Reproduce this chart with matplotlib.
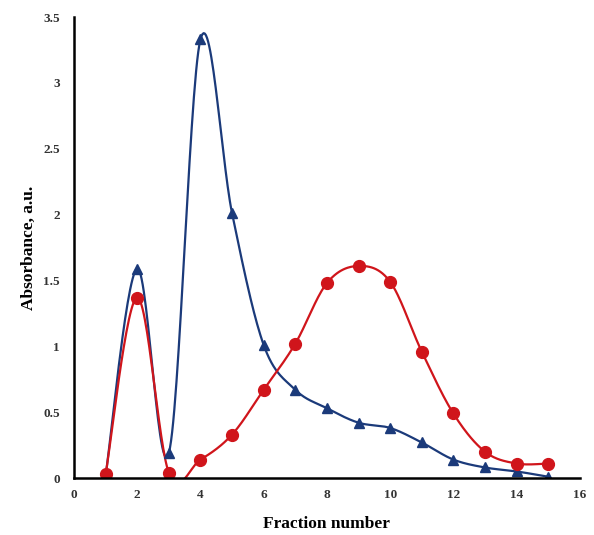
"""Absorbance profile of the collected fractions.

Two elution series are drawn as smoothed lines with markers,
in the style of a spreadsheet "smoothed line" chart.

Output:

    out.png
"""

from __future__ import annotations

import matplotlib

matplotlib.use("Agg")

import matplotlib.pyplot as plt
import numpy as np


FRACTIONS = [1, 2, 3, 4, 5, 6, 7, 8, 9, 10, 11, 12, 13, 14, 15]

SERIES_BLUE = [0.02, 1.59, 0.19, 3.33, 2.01, 1.01, 0.67, 0.53, 0.42, 0.38, 0.27, 0.14, 0.08, 0.05, 0.01]
SERIES_RED = [0.03, 1.37, 0.04, 0.14, 0.33, 0.67, 1.02, 1.48, 1.61, 1.49, 0.96, 0.49, 0.20, 0.11, 0.11]

X_TICKS = [0, 2, 4, 6, 8, 10, 12, 14, 16]
Y_TICKS = [0, 0.5, 1, 1.5, 2, 2.5, 3, 3.5]
Y_TICK_LABELS = ["0", "0.5", "1", "1.5", "2", "2.5", "3", "3.5"]

BLUE_COLOR = "#1B3A7A"
RED_COLOR = "#D0151B"
FONT_FAMILY = ["Liberation Serif", "DejaVu Serif"]


def smooth_curve(x_values: list[float], y_values: list[float], steps: int = 30) -> tuple[np.ndarray, np.ndarray]:
    """Сгладить ломаную кубическими Безье (как сглаженная линия в Excel)."""
    x = np.asarray(x_values, dtype=float)
    y = np.asarray(y_values, dtype=float)
    points = np.column_stack([x, y])
    padded = np.vstack([points[0], points, points[-1]])

    t = np.linspace(0.0, 1.0, steps)[:, None]
    segments = []
    for index in range(len(points) - 1):
        p0 = padded[index + 1]
        p3 = padded[index + 2]
        c1 = p0 + (padded[index + 2] - padded[index]) / 6.0
        c2 = p3 - (padded[index + 3] - padded[index + 1]) / 6.0
        curve = (
            (1 - t) ** 3 * p0
            + 3 * (1 - t) ** 2 * t * c1
            + 3 * (1 - t) * t ** 2 * c2
            + t ** 3 * p3
        )
        segments.append(curve if index == 0 else curve[1:])

    result = np.vstack(segments)
    return result[:, 0], result[:, 1]


def draw_series(axis: plt.Axes, y_values: list[float], color: str, marker: str, size: float) -> None:
    """Нарисовать одну серию: сглаженная линия и маркеры."""
    xs, ys = smooth_curve(FRACTIONS, y_values)
    axis.plot(xs, ys, color=color, linewidth=1.6, zorder=3)
    axis.plot(
        FRACTIONS,
        y_values,
        linestyle="none",
        marker=marker,
        markersize=size,
        color=color,
        markeredgecolor=color,
        zorder=4,
    )


def main() -> None:
    figure = plt.figure(figsize=(5.94, 5.35), dpi=100)
    axis = figure.add_axes([0.1246, 0.1065, 0.8515, 0.8617])

    draw_series(axis, SERIES_BLUE, BLUE_COLOR, "^", 7.5)
    draw_series(axis, SERIES_RED, RED_COLOR, "o", 8.5)

    axis.set_xlim(0, 16)
    axis.set_ylim(0, 3.5)
    axis.set_xticks(X_TICKS)
    axis.set_yticks(Y_TICKS)
    axis.set_yticklabels(Y_TICK_LABELS)

    for spine in ("top", "right"):
        axis.spines[spine].set_visible(False)
    for spine in ("left", "bottom"):
        axis.spines[spine].set_linewidth(1.8)
        axis.spines[spine].set_color("black")
        axis.spines[spine].set_zorder(5)

    axis.tick_params(axis="y", length=0, pad=10, labelsize=9.5)
    axis.tick_params(axis="x", length=0, pad=8, labelsize=9.5)
    for label in axis.get_xticklabels() + axis.get_yticklabels():
        label.set_family(FONT_FAMILY)
        label.set_fontweight("bold")
        label.set_color("#333333")

    axis.set_xlabel("Fraction number", family=FONT_FAMILY, fontweight="bold", fontsize=12.5, labelpad=11)
    axis.set_ylabel("Absorbance, a.u.", family=FONT_FAMILY, fontweight="bold", fontsize=12.5, labelpad=5)

    figure.savefig("out.png", dpi=100)
    plt.close(figure)


if __name__ == "__main__":
    main()
